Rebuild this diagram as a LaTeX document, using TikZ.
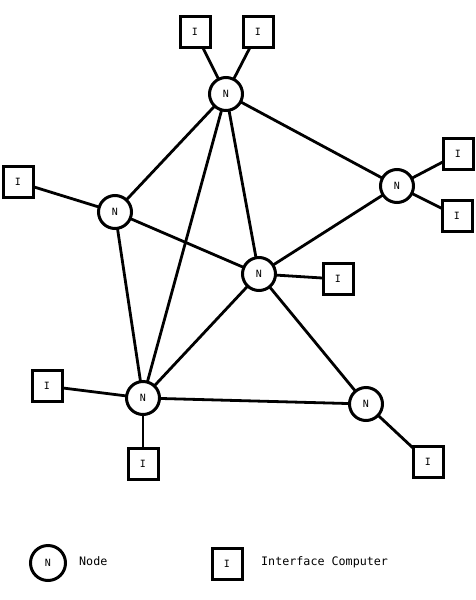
\documentclass[tikz,border=0pt]{standalone}
\usepackage{fontspec}
\setmonofont{DejaVu Sans Mono}
\begin{document}
\begin{tikzpicture}[x=1pt,y=-1pt,
  netnode/.style={circle,draw,line width=3pt,minimum size=33pt,inner sep=0pt,fill=white,font=\ttfamily\fontsize{10}{11}\selectfont},
  iface/.style={rectangle,draw,line width=3pt,minimum width=30pt,minimum height=31pt,inner sep=0pt,fill=white,font=\ttfamily\fontsize{10}{11}\selectfont},
  link/.style={line width=2.8pt},
  legtext/.style={anchor=west,font=\ttfamily\fontsize{11.7}{13}\selectfont,inner sep=0pt}]
\useasboundingbox (0,0) rectangle (476,600);
\coordinate (n1) at (226,94);
\coordinate (n2) at (397,186);
\coordinate (n3) at (115,212);
\coordinate (n4) at (259,274);
\coordinate (n5) at (143,398);
\coordinate (n6) at (366,404);
\coordinate (i1) at (195,32);
\coordinate (i2) at (258,32);
\coordinate (i3) at (458,154);
\coordinate (i4) at (457,216);
\coordinate (i5) at (18,182);
\coordinate (i6) at (338,279);
\coordinate (i7) at (47,386);
\coordinate (i8) at (143,464);
\coordinate (i9) at (428,462);
\foreach \a/\b in {n1/i1,n1/i2,n1/n2,n1/n3,n1/n4,n1/n5,n2/i3,n2/i4,n2/n4,n3/i5,n3/n4,n3/n5,n4/i6,n4/n5,n4/n6,n5/i7,n5/i8,n5/n6,n6/i9}
  \draw[link] (\a) -- (\b);
\foreach \c in {n1,n2,n3,n4,n5,n6}
  \node[netnode] (N\c) at (\c) {N};
\foreach \c in {i1,i2,i3,i4,i5,i6,i7,i8,i9}
  \node[iface] (I\c) at (\c) {I};
% legend
\node[netnode,minimum size=35pt] (legN) at (48,563) {N};
\node[legtext] (legNt) at (79,561) {Node};
\node[iface] (legI) at (227,564) {I};
\node[legtext] (legIt) at (261,562) {Interface Computer};
\end{tikzpicture}
\end{document}
